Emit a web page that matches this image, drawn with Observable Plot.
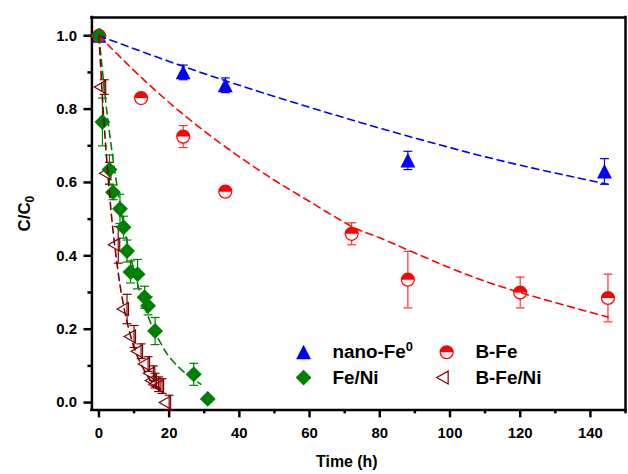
<!DOCTYPE html>
<html><head><meta charset="utf-8">
<script src="https://cdn.jsdelivr.net/npm/d3@7"></script>
<script src="https://cdn.jsdelivr.net/npm/@observablehq/plot@0.6"></script>
<style>
html,body{margin:0;padding:0;overflow:hidden;background:#fff;}
#chart{width:628px;height:474px;overflow:hidden;}
</style></head><body><div id="chart"></div>
<script>
// ---- data ----
const nanoT = [0, 24, 36, 88, 144];
const nanoC = [1.0, 0.90, 0.865, 0.66, 0.63];
const nanoE = [0, 0.02, 0.02, 0.025, 0.035];

const bfeT = [0, 12, 24, 36, 72, 88, 120, 145];
const bfeC = [1.0, 0.83, 0.725, 0.575, 0.46, 0.335, 0.30, 0.285];
const bfeE = [0, 0.01, 0.03, 0.01, 0.03, 0.077, 0.042, 0.065];

const feniT = [0, 1, 3, 4, 6, 7, 8, 9, 11, 13, 14, 16, 27, 31];
const feniC = [1.0, 0.765, 0.635, 0.573, 0.528, 0.478, 0.413, 0.356, 0.35, 0.287, 0.264, 0.195, 0.077, 0.01];
const feniE = [0, 0.065, 0.04, 0.02, 0.04, 0.03, 0.03, 0.03, 0.04, 0.03, 0.025, 0.037, 0.03, 0];

const bfeniT = [0, 1.5, 3, 5.5, 8, 10, 12, 14, 15.5, 16, 17, 18, 20];
const bfeniC = [1.0, 0.86, 0.625, 0.43, 0.255, 0.18, 0.14, 0.105, 0.08, 0.06, 0.05, 0.045, 0.0];
const bfeniE = [0, 0.02, 0.03, 0.05, 0.04, 0.03, 0.02, 0.02, 0.02, 0.02, 0.02, 0.02, 0.02];

// dashed fit curves
const fitNanoT = [0, 20, 40, 60, 80, 100, 120, 145];
const fitNanoC = [1.0, 0.93, 0.865, 0.805, 0.748, 0.695, 0.647, 0.595];
const fitBfeT = [0, 10, 20, 30, 40, 50, 60, 72, 80, 100, 120, 145];
const fitBfeC = [1.0, 0.905, 0.818, 0.74, 0.67, 0.606, 0.548, 0.48, 0.449, 0.367, 0.30, 0.233];
const fitFeniT = [0, 2, 4, 6, 8, 10, 12, 14, 16, 18, 20, 24, 29];
const fitFeniC = [1.0, 0.815, 0.665, 0.54, 0.44, 0.36, 0.29, 0.235, 0.19, 0.155, 0.125, 0.085, 0.05];
const fitBfeniT = [0, 1, 2, 3, 4, 5, 6, 7, 8, 10, 12, 14, 16, 18.5];
const fitBfeniC = [1.0, 0.83, 0.69, 0.57, 0.47, 0.39, 0.32, 0.265, 0.22, 0.15, 0.105, 0.07, 0.048, 0.03];

const seriesNames = ["nano-Fe", "B-Fe", "Fe/Ni", "B-Fe/Ni"];
const xTicks = [0, 20, 40, 60, 80, 100, 120, 140];
const xMinor = [10, 30, 50, 70, 90, 110, 130, 150];
const yTicks = [0.0, 0.2, 0.4, 0.6, 0.8, 1.0];
const yMinor = [0.1, 0.3, 0.5, 0.7, 0.9];

// ---- helpers ----
const rows = (T, C, E) => T.map((t, i) => ({t, c: C[i], e: E ? E[i] : 0}));
const nano = rows(nanoT, nanoC, nanoE), bfe = rows(bfeT, bfeC, bfeE),
      feni = rows(feniT, feniC, feniE), bfeni = rows(bfeniT, bfeniC, bfeniE);
const fits = [
  [rows(fitNanoT, fitNanoC), "#0000FF"],
  [rows(fitBfeT, fitBfeC), "#FF0000"],
  [rows(fitFeniT, fitFeniC), "#008000"],
  [rows(fitBfeniT, fitBfeniC), "#800000"]
];

const sym = f => ({draw(ctx) { f(ctx); }});
const triUp = sym(c => { c.moveTo(0, -7.5); c.lineTo(7.5, 7); c.lineTo(-7.5, 7); c.closePath(); });
const triLeft = sym(c => { c.moveTo(-10, 0); c.lineTo(1.5, -6.5); c.lineTo(1.5, 6.5); c.closePath(); });
const diamond = sym(c => { c.moveTo(0, -8); c.lineTo(8, 0); c.lineTo(0, 8); c.lineTo(-8, 0); c.closePath(); });
const circle = sym(c => { c.moveTo(6.5, 0); c.arc(0, 0, 6.5, 0, 2 * Math.PI); c.closePath(); });
const halfTop = sym(c => { c.moveTo(6.5, 0); c.arc(0, 0, 6.5, 0, Math.PI, true); c.closePath(); });
const cap = sym(c => { c.moveTo(-4.5, 0); c.lineTo(4.5, 0); });

function errBars(data, color) {
  const d = data.filter(r => r.e > 0);
  return [
    Plot.ruleX(d, {x: "t", y1: r => r.c - r.e, y2: r => r.c + r.e, stroke: color, strokeWidth: 1.2}),
    Plot.dot(d, {x: "t", y: r => r.c + r.e, symbol: cap, stroke: color, fill: "none", strokeWidth: 1.2}),
    Plot.dot(d, {x: "t", y: r => r.c - r.e, symbol: cap, stroke: color, fill: "none", strokeWidth: 1.2})
  ];
}

const font = {fontSize: 19, fontWeight: "bold"};
function legendItem(name, marks, dx, dy, cls) {
  return [
    ...marks.map(m => Plot.dot([name], {frameAnchor: "top-left", dx, dy, ...m})),
    Plot.text([name], {frameAnchor: "top-left", dx: dx + 29, dy, textAnchor: "start", lineAnchor: "middle", text: d => d, ...font, className: cls})
  ];
}

const chart = Plot.plot({
  width: 632, height: 474,
  marginLeft: 92, marginRight: 3, marginTop: 17, marginBottom: 62,
  style: {fontFamily: "'Liberation Sans', Arial, sans-serif", background: "#fff", color: "#000"},
  x: {domain: [-2, 150]},
  y: {domain: [-0.02, 1.05]},
  marks: [
    // axes + frame
    Plot.axisX(xTicks, {tickSize: 8, tickPadding: 10, strokeWidth: 2.5, fontSize: 15, fontWeight: "bold", label: null}),
    Plot.axisX(xMinor, {tickSize: 4, strokeWidth: 2.5, tickFormat: () => "", label: null}),
    Plot.axisY(yTicks, {tickSize: 8, tickPadding: 7, strokeWidth: 2.5, fontSize: 15, fontWeight: "bold", tickFormat: d => d.toFixed(1), label: null}),
    Plot.axisY(yMinor, {tickSize: 4, strokeWidth: 2.5, tickFormat: () => "", label: null}),
    Plot.ruleX([-2], {strokeWidth: 2.5, strokeLinecap: "square"}),
    Plot.ruleY([-0.02], {strokeWidth: 2.5, strokeLinecap: "square"}),
    Plot.ruleX([150], {strokeWidth: 2.5, strokeLinecap: "square"}),
    Plot.ruleY([1.05], {strokeWidth: 2.5, strokeLinecap: "square"}),
    Plot.text(["Time (h)"], {frameAnchor: "bottom", dx: -12, dy: 52, lineAnchor: "middle", text: d => d, fontSize: 16, fontWeight: "bold"}),
    Plot.text(["C/C"], {frameAnchor: "left", dx: -68, dy: 0, rotate: -90, textAnchor: "middle", lineAnchor: "middle", text: d => d, fontSize: 17, fontWeight: "bold", className: "ylab"}),

    // error bars
    ...errBars(nano, "#0000FF"),
    ...errBars(bfe, "#FF3030"),
    ...errBars(bfeni, "#800000"),
    ...errBars(feni, "#008000"),

    // points
    Plot.dot(nano, {x: "t", y: "c", symbol: triUp, fill: "#0000FF", stroke: "none"}),
    Plot.dot(bfe, {x: "t", y: "c", symbol: circle, fill: "#fff", stroke: "#FF0000", strokeWidth: 1.3}),
    Plot.dot(bfe, {x: "t", y: "c", symbol: halfTop, fill: "#FF0000", stroke: "none"}),
    Plot.dot(bfeni, {x: "t", y: "c", symbol: triLeft, fill: "none", stroke: "#800000", strokeWidth: 1.2}),
    Plot.dot(feni, {x: "t", y: "c", symbol: diamond, fill: "#008000", stroke: "none"}),

    // fitted dashed curves
    ...fits.map(([d, col]) => Plot.line(d, {x: "t", y: "c", stroke: col, strokeWidth: 1.6, strokeDasharray: "7,5", curve: "natural"})),

    // legend
    ...legendItem(seriesNames[0], [{symbol: triUp, fill: "#0000FF", stroke: "none"}], 213, 337, "lg-nano"),
    ...legendItem(seriesNames[1], [{symbol: circle, fill: "#fff", stroke: "#FF0000", strokeWidth: 1.3}, {symbol: halfTop, fill: "#FF0000", stroke: "none"}], 357, 337, "lg-bfe"),
    ...legendItem(seriesNames[2], [{symbol: diamond, fill: "#008000", stroke: "none"}], 213, 362.5, "lg-feni"),
    ...legendItem(seriesNames[3], [{symbol: triLeft, fill: "none", stroke: "#800000", strokeWidth: 1.2}], 357, 362.5, "lg-bfeni")
  ]
});
document.getElementById("chart").appendChild(chart);

// subscript / superscript zeros
d3.select(chart).selectAll("g.ylab text").append("tspan").attr("dy", 4).attr("font-size", 12).text("0");
d3.select(chart).selectAll("g.lg-nano text").append("tspan").attr("dy", -7).attr("font-size", 13).text("0");
</script></body></html>
